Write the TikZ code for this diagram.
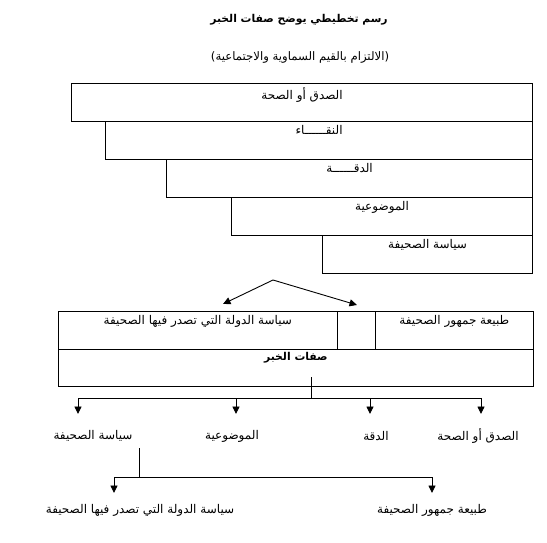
\documentclass[tikz,border=0pt]{standalone}
\usepackage{fontspec}
\usetikzlibrary{arrows.meta, positioning}
\newfontfamily\arabicfont[Script=Arabic]{DejaVu Sans}
\TeXXeTstate=1
\tikzset{%
	layer box/.style={
		draw,
		rectangle,
		line width=0.9pt,
		inner sep=0pt,
		anchor=north east,
		minimum height=38pt
	},
	cell box/.style={
		draw,
		rectangle,
		line width=0.7pt,
		inner sep=0pt,
		anchor=north west,
		minimum height=37.5pt
	},
	top text/.style={
		anchor=north,
		inner sep=1pt,
		yshift=-3pt,
		font=\fontsize{12}{14}\selectfont\arabicfont
	},
	fork arrow/.style={
		-{Triangle[length=7.5pt,width=7pt]},
		line width=0.9pt
	},
}

\begin{document}
\begin{tikzpicture}[
				x=1pt, y=-1pt,
				attr label/.style={font=\fontsize{12}{14}\selectfont\arabicfont, inner sep=1pt}
				]
				\useasboundingbox (0,0) rectangle (547,543);
				
				% title
				\node[font=\fontsize{10.8}{13}\selectfont\arabicfont\bfseries] (title) at (299,20) {\beginR رسم تخطيطي يوضح صفات الخبر\endR};
				\node[attr label, font=\fontsize{11.7}{14}\selectfont\arabicfont] (subtitle) at (300,57) {\beginR (الالتزام بالقيم السماوية والاجتماعية)\endR};
				
				% stacked layers
				\node[layer box, minimum width=461pt,
					label={[top text, name=t1]north:\beginR الصدق أو الصحة\endR}] (b1) at (533,83) {};
				\node[layer box, minimum width=427pt,
					label={[top text, name=t2]north:\beginR النقــــــاء\endR}] (b2) at (533,121) {};
				\node[layer box, minimum width=366pt,
					label={[top text, name=t3]north:\beginR الدقــــــة\endR}] (b3) at (533,159) {};
				\node[layer box, minimum width=301pt,
					label={[top text, name=t4]north:\beginR الموضوعية\endR}] (b4) at (533,197) {};
				\node[layer box, minimum width=210pt,
					label={[top text, name=t5]north:\beginR سياسة الصحيفة\endR}] (b5) at (533,235) {};
				
				% two arrows
				\coordinate (apex) at (273,280);
				\coordinate (left tip) at (223,304);
				\coordinate (right tip) at (357,305);
				\draw[fork arrow] (apex) -- (left tip);
				\draw[fork arrow] (apex) -- (right tip);
				
				% context cells
				\node[cell box, minimum width=279pt,
					label={[top text, name=c1]north:\beginR سياسة الدولة التي تصدر فيها الصحيفة\endR}] (cleft) at (58,311) {};
				\node[cell box, minimum width=38pt] (cmid) at (337,311) {};
				\node[cell box, minimum width=158pt,
					label={[top text, name=c3]north:\beginR طبيعة جمهور الصحيفة\endR}] (cright) at (375,311) {};
				\node[cell box, minimum width=475pt,
					label={[top text, name=c4, font=\fontsize{10.8}{13}\selectfont\arabicfont\bfseries]north:\beginR صفات الخبر\endR}] (khabar) at (58,348.5) {};
				
				% first fork
				\coordinate (stem) at (311,377);
				\coordinate (bus) at (311,398);
				\coordinate (d1) at (78,414);
				\coordinate (d2) at (236,414);
				\coordinate (d3) at (370,414);
				\coordinate (d4) at (481,414);
				\draw[line width=0.9pt] (stem) -- (bus);
				\draw[line width=0.9pt] (d1 |- bus) -- (d4 |- bus);
				\foreach \t in {d1,d2,d3,d4}
					\draw[fork arrow] (\t |- bus) -- (\t);
				
				\node[attr label] (l1) at (93,436) {\beginR سياسة الصحيفة\endR};
				\node[attr label] (l2) at (232,436) {\beginR الموضوعية\endR};
				\node[attr label] (l3) at (376,436) {\beginR الدقة\endR};
				\node[attr label] (l4) at (478,436) {\beginR الصدق أو الصحة\endR};
				
				% second fork
				\coordinate (stem2) at (139,448);
				\coordinate (bus2) at (139,477);
				\coordinate (e1) at (114,493);
				\coordinate (e2) at (432,493);
				\draw[line width=0.9pt] (stem2) -- (bus2);
				\draw[line width=0.9pt] (e1 |- bus2) -- (e2 |- bus2);
				\draw[fork arrow] (e1 |- bus2) -- (e1);
				\draw[fork arrow] (e2 |- bus2) -- (e2);
				
				\node[attr label] (m1) at (140,510) {\beginR سياسة الدولة التي تصدر فيها الصحيفة\endR};
				\node[attr label] (m2) at (432,510) {\beginR طبيعة جمهور الصحيفة\endR};
				
			\end{tikzpicture}
\end{document}
